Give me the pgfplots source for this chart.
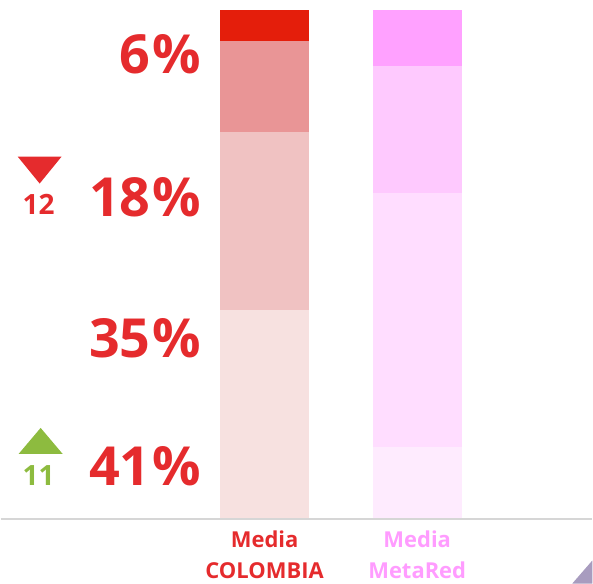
\documentclass[border=0pt]{standalone}
\usepackage{pgfplots}
\pgfplotsset{compat=1.18}
\usepackage{fontspec}
\setmainfont{Open Sans}

\definecolor{pctred}{HTML}{E52B2D}
\definecolor{lblpink}{HTML}{FF9CFF}
\definecolor{upgreen}{HTML}{8DBB3F}
\definecolor{cA}{HTML}{F7E1E0}
\definecolor{cB}{HTML}{F0C2C2}
\definecolor{cC}{HTML}{E99596}
\definecolor{cD}{HTML}{E41E0B}
\definecolor{mA}{HTML}{FEEBFE}
\definecolor{mB}{HTML}{FFDDFF}
\definecolor{mC}{HTML}{FEC9FE}
\definecolor{mD}{HTML}{FFA1FF}
\definecolor{corner}{HTML}{A89CBF}

\pgfplotsset{baraxis/.style={
    at={(0pt,0pt)}, anchor=south west,
    scale only axis,
    width=593pt, height=509pt,
    ybar stacked,
    bar width=89pt,
    xmin=-1.7288, xmax=2.1471,
    ymin=0, ymax=100,
    hide axis,
    clip=false,
}}

\begin{document}
\begin{tikzpicture}
% base line under the bars
\draw[color=black!16, line width=1.5pt] (0pt,-0.75pt) -- (593pt,-0.75pt);
% Media COLOMBIA
\begin{axis}[baraxis]
\addplot[fill=cA, draw=none] coordinates {(0,41)};
\addplot[fill=cB, draw=none] coordinates {(0,35)};
\addplot[fill=cC, draw=none] coordinates {(0,18)};
\addplot[fill=cD, draw=none] coordinates {(0,6)};
\node[anchor=base, inner sep=0pt, font=\bfseries\fontsize{22}{22}\selectfont, text=pctred] at (axis cs:0,0) [yshift=-29.5pt] {Media};
\node[anchor=base, inner sep=0pt, font=\bfseries\fontsize{22}{22}\selectfont, text=pctred] at (axis cs:0,0) [yshift=-60.5pt] {COLOMBIA};
\end{axis}
% Media MetaRed
\begin{axis}[baraxis]
\addplot[fill=mA, draw=none] coordinates {(1,14)};
\addplot[fill=mB, draw=none] coordinates {(1,50)};
\addplot[fill=mC, draw=none] coordinates {(1,25)};
\addplot[fill=mD, draw=none] coordinates {(1,11)};
\node[anchor=base, inner sep=0pt, font=\bfseries\fontsize{22}{22}\selectfont, text=lblpink] at (axis cs:1,0) [yshift=-29.5pt] {Media};
\node[anchor=base, inner sep=0pt, font=\bfseries\fontsize{22}{22}\selectfont, text=lblpink] at (axis cs:1,0) [yshift=-60.5pt] {MetaRed};
\end{axis}
% percentage labels
\begin{scope}[every node/.style={anchor=base east, inner sep=0pt, text=pctred, font=\bfseries\fontsize{54}{54}\selectfont}]
\node at (201pt,445.5pt) {6\kern2pt\%};
\node at (201pt,302.5pt) {18\kern2pt\%};
\node at (201pt,161.5pt) {35\kern2pt\%};
\node at (201pt,32.5pt) {41\kern2pt\%};
\end{scope}
% change markers
\fill[pctred] (17pt,362.5pt) -- (61pt,362.5pt) -- (39pt,335.5pt) -- cycle;
\node[anchor=base, inner sep=0pt, text=pctred, font=\bfseries\fontsize{28}{28}\selectfont] at (38pt,304.5pt) {12};
\fill[upgreen] (18pt,64.5pt) -- (62pt,64.5pt) -- (40pt,90.5pt) -- cycle;
\node[anchor=base, inner sep=0pt, text=upgreen, font=\bfseries\fontsize{28}{28}\selectfont] at (38pt,32.5pt) {11};
% corner decoration
\fill[corner] (573pt,-65.5pt) -- (593pt,-65.5pt) -- (593pt,-42.5pt) -- cycle;
\useasboundingbox (0pt,-65.5pt) rectangle (593pt,519.5pt);
\end{tikzpicture}
\end{document}
